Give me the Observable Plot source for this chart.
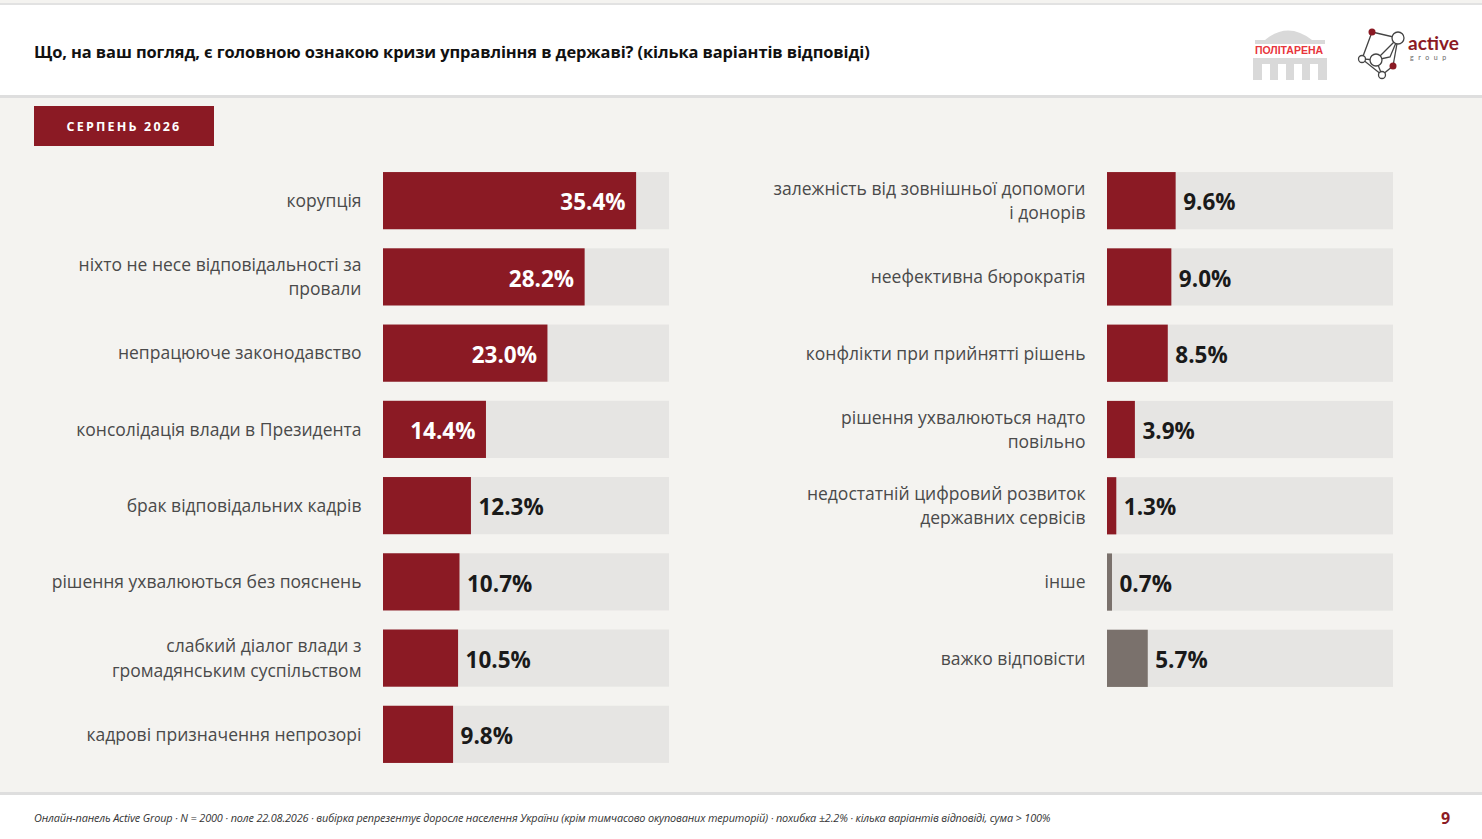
<!DOCTYPE html>
<html>
<head>
<meta charset="utf-8">
<script src="https://cdn.jsdelivr.net/npm/d3@7"></script>
<script src="https://cdn.jsdelivr.net/npm/@observablehq/plot@0.6"></script>
<style>
  html, body { margin: 0; padding: 0; }
  body { width: 1482px; height: 839px; background: #f4f3f0; position: relative; overflow: hidden; font-family: "Open Sans", "Noto Sans", sans-serif; }
  #header { position: absolute; left: 0; top: 3px; width: 1482px; height: 90px; background: #fff; border-top: 2px solid #e2e2e2; border-bottom: 3px solid #dedede; }
  #title { position: absolute; left: 34px; top: 35px; font-family: "Open Sans", sans-serif; font-weight: 700; font-size: 16.45px; color: #111; letter-spacing: -0.1px; }
  #badge { position: absolute; left: 34px; top: 106px; width: 180px; height: 40px; background: #8b1a24; color: #fff; font-family: "Open Sans", sans-serif; font-weight: 700; font-size: 12.5px; letter-spacing: 2.2px; display: flex; align-items: center; justify-content: center; }
  #footer { position: absolute; left: 0; top: 792px; width: 1482px; height: 47px; background: #fff; border-top: 3px solid #dedede; }
  #note { position: absolute; left: 34px; top: 15px; font-style: italic; font-size: 10.9px; color: #333; font-family: "Open Sans", sans-serif; letter-spacing: -0.15px; }
  #page { position: absolute; left: 1441px; top: 12px; font-weight: 700; font-size: 16px; color: #8b1a24; }
  .panel { position: absolute; top: 140px; }
  #logos { position: absolute; left: 1240px; top: 18px; }
</style>
</head>
<body>
<div id="header">
  <div id="title">Що, на ваш погляд, є головною ознакою кризи управління в державі? (кілька варіантів відповіді)</div>
  <svg id="logos" width="240" height="66" viewBox="0 0 240 66">
    <!-- ПОЛІТАРЕНА -->
    <g fill="#d9d9d9">
      <path d="M25,17 Q48,-2 72,17 Z"/>
      <rect x="15" y="17" width="70" height="4"/>
      <rect x="13" y="35" width="74" height="22"/>
    </g>
    <g fill="#fff">
      <rect x="22" y="41" width="8" height="16"/>
      <rect x="38" y="41" width="8" height="16"/>
      <rect x="54" y="41" width="8" height="16"/>
      <rect x="70" y="41" width="8" height="16"/>
    </g>
    <text x="49" y="31" text-anchor="middle" font-family="Liberation Sans, Arial, sans-serif" font-weight="700" font-size="10.5" fill="#e8353b">ПОЛІТАРЕНА</text>
    <!-- active group -->
    <g stroke="#444" stroke-width="1.3" fill="none">
      <polyline points="132,9 158,15 150,34 136,37 122,36 132,9"/>
      <line x1="136" y1="37" x2="142" y2="52"/>
      <line x1="142" y1="52" x2="153" y2="43"/>
      <line x1="153" y1="43" x2="158" y2="15"/>
      <line x1="122" y1="36" x2="142" y2="52"/>
      <line x1="136" y1="37" x2="158" y2="15"/>
    </g>
    <g stroke="#444" stroke-width="1.3" fill="#fff">
      <circle cx="158" cy="15" r="6"/>
      <circle cx="136" cy="37" r="6"/>
      <circle cx="122" cy="36" r="3.5"/>
      <circle cx="142" cy="52" r="3.5"/>
    </g>
    <circle cx="132" cy="9" r="3.5" fill="#8b1a24"/>
    <circle cx="153" cy="43" r="3.5" fill="#8b1a24"/>
    <text x="168" y="27" font-family="Lato, sans-serif" font-weight="700" font-size="19" fill="#8b1a24">active</text>
    <text x="170" y="37" font-family="Lato, sans-serif" font-size="7" letter-spacing="4.6" fill="#666">group</text>
  </svg>
</div>
<div id="badge">СЕРПЕНЬ 2026</div>
<div id="left" class="panel" style="left:0px"></div>
<div id="right" class="panel" style="left:724px"></div>
<div id="footer">
  <div id="note">Онлайн-панель Active Group · N = 2000 · поле 22.08.2026 · вибірка репрезентує доросле населення України (крім тимчасово окупованих територій) · похибка ±2.2% · кілька варіантів відповіді, сума &gt; 100%</div>
  <div id="page">9</div>
</div>
<script>
// ---- data ----
const leftCategories = [
  "корупція",
  "ніхто не несе відповідальності за\nпровали",
  "непрацююче законодавство",
  "консолідація влади в Президента",
  "брак відповідальних кадрів",
  "рішення ухвалюються без пояснень",
  "слабкий діалог влади з\nгромадянським суспільством",
  "кадрові призначення непрозорі"
];
const leftValues = [35.4, 28.2, 23.0, 14.4, 12.3, 10.7, 10.5, 9.8];
const leftGroups = ["main", "main", "main", "main", "main", "main", "main", "main"];

const rightCategories = [
  "залежність від зовнішньої допомоги\nі донорів",
  "неефективна бюрократія",
  "конфлікти при прийнятті рішень",
  "рішення ухвалюються надто\nповільно",
  "недостатній цифровий розвиток\nдержавних сервісів",
  "інше",
  "важко відповісти"
];
const rightValues = [9.6, 9.0, 8.5, 3.9, 1.3, 0.7, 5.7];
const rightGroups = ["main", "main", "main", "main", "main", "other", "other"];

const xMax = 40;
const insideThreshold = 14;

function panel(categories, values, groups, nSlots) {
  const data = categories.map((c, i) => ({cat: c, value: values[i], group: groups[i]}));
  const step = 76.3, pad = 0.25;
  const marginTop = 13;
  const height = Math.round(marginTop + step * (nSlots + pad));
  const fmt = d => d.value.toFixed(1) + "%";
  return Plot.plot({
    width: 700,
    height,
    marginLeft: 383,
    marginRight: 31,
    marginTop,
    marginBottom: 0,
    style: {fontFamily: "Open Sans, Noto Sans, sans-serif", color: "#4a4a4a", background: "transparent", overflow: "visible"},
    x: {domain: [0, xMax], axis: null},
    y: {domain: categories, padding: pad, round: false, label: null},
    color: {domain: ["main", "other"], range: ["#8b1a24", "#7a716c"]},
    marks: [
      Plot.barX(data, {x1: 0, x2: () => xMax, y: "cat", fill: "#e6e5e3"}),
      Plot.barX(data, {x: "value", y: "cat", fill: "group"}),
      Plot.axisY({tickSize: 0, tickPadding: 22, fontSize: 17.5, lineHeight: 1.4, dy: -2, label: null}),
      Plot.text(data.filter(d => d.value >= insideThreshold), {
        x: "value", y: "cat", text: fmt, textAnchor: "end", dx: -11, dy: 2,
        fill: "#fff", fontWeight: 700, fontSize: 22.5
      }),
      Plot.text(data.filter(d => d.value < insideThreshold), {
        x: "value", y: "cat", text: fmt, textAnchor: "start", dx: 7, dy: 2,
        fill: "#1a1a1a", fontWeight: 700, fontSize: 22.5
      })
    ]
  });
}

document.getElementById("left").appendChild(panel(leftCategories, leftValues, leftGroups, 8));
document.getElementById("right").appendChild(panel(rightCategories, rightValues, rightGroups, 7));
</script>
</body>
</html>
